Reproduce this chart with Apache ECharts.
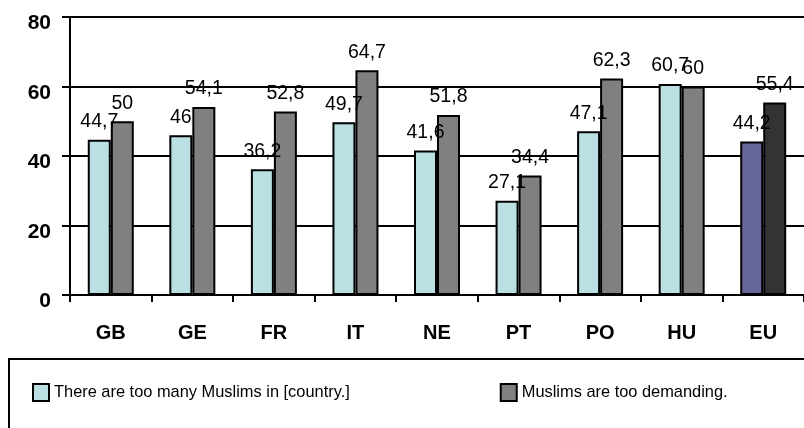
<!DOCTYPE html>
<html>
<head>
<meta charset="utf-8">
<script src="https://cdn.jsdelivr.net/npm/echarts@6/dist/echarts.min.js"></script>
<style>
    html, body { margin: 0; padding: 0; background: #fff; }
    #myChart { width: 804px; height: 428px; }
</style>
</head>
<body>
<div id="myChart"></div>
<script>
    var categories = ['GB', 'GE', 'FR', 'IT', 'NE', 'PT', 'PO', 'HU', 'EU'];
    var tooMany = [44.7, 46, 36.2, 49.7, 41.6, 27.1, 47.1, 60.7, 44.2];
    var tooDemanding = [50, 54.1, 52.8, 64.7, 51.8, 34.4, 62.3, 60, 55.4];
    var seriesNames = ['There are too many Muslims in [country.]', 'Muslims are too demanding.'];

    var font = 'Arial, "Liberation Sans", sans-serif';
    var myChart = echarts.init(document.getElementById('myChart'));

    // EU bars have their own colours
    function toData(arr, euColor) {
        return arr.map(function (v, i) {
            if (categories[i] === 'EU') {
                return { value: v, itemStyle: { color: euColor } };
            }
            return v;
        });
    }

    var labelOpt = {
        show: true,
        position: 'top',
        distance: 8,
        color: '#000',
        fontFamily: font,
        fontSize: 19.5,
        formatter: function (p) { return String(p.value).replace('.', ','); }
    };

    myChart.setOption({
        animation: false,
        grid: { left: 70, right: 0, top: 17, bottom: 133 },
        legend: {
            left: 32,
            top: 383,
            padding: 0,
            itemWidth: 16,
            itemHeight: 17,
            itemGap: 150,
            icon: 'rect',
            textStyle: { fontFamily: font, fontSize: 16.4, color: '#000' },
            data: seriesNames
        },
        graphic: [{
            type: 'rect',
            shape: { x: 9, y: 359, width: 820, height: 100 },
            style: { fill: 'none', stroke: '#000', lineWidth: 2 },
            silent: true
        }],
        xAxis: {
            type: 'category',
            data: categories,
            axisLine: { lineStyle: { color: '#000', width: 2 } },
            axisTick: { show: true, length: 7, lineStyle: { color: '#000', width: 2 } },
            axisLabel: { margin: 28, color: '#000', fontFamily: font, fontSize: 20, fontWeight: 'bold' }
        },
        yAxis: {
            type: 'value',
            min: 0,
            max: 80,
            interval: 20,
            axisLine: { show: true, lineStyle: { color: '#000', width: 2 } },
            axisTick: { show: true, length: 8, lineStyle: { color: '#000', width: 2 } },
            splitLine: { lineStyle: { color: '#000', width: 2 } },
            axisLabel: {
                margin: 19, color: '#000', fontFamily: font, fontSize: 21, fontWeight: 'bold',
                verticalAlign: 'top', lineHeight: 13
            }
        },
        series: [
            {
                name: seriesNames[0],
                type: 'bar',
                barWidth: 23,
                barGap: '0%',
                itemStyle: { color: '#BBE0E3', borderColor: '#000', borderWidth: 2 },
                label: labelOpt,
                data: toData(tooMany, '#666699')
            },
            {
                name: seriesNames[1],
                type: 'bar',
                barWidth: 23,
                barGap: '0%',
                itemStyle: { color: '#808080', borderColor: '#000', borderWidth: 2 },
                label: labelOpt,
                data: toData(tooDemanding, '#333333')
            }
        ]
    });
</script>
</body>
</html>
